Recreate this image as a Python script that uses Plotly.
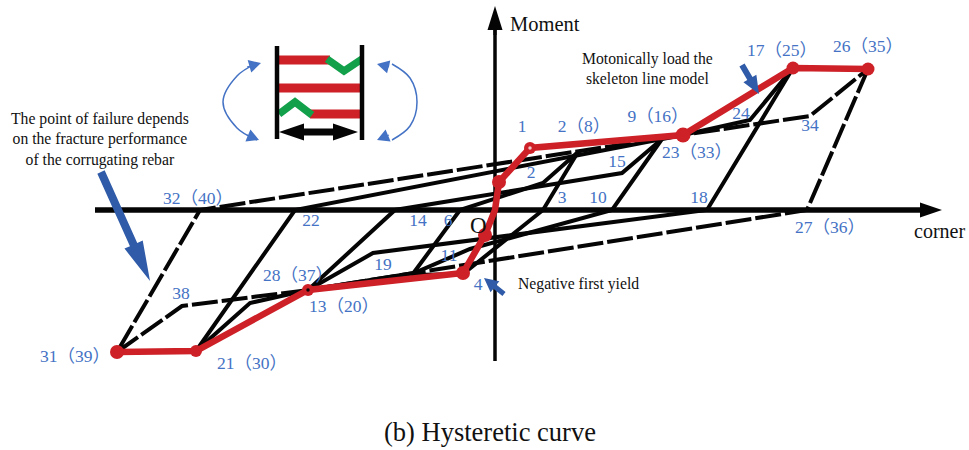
import plotly.graph_objects as go

BLACK = "#050505"
RED = "#cd2027"
GREEN = "#12a04b"
BLUE = "#4472c4"
DARK_BLUE = "#2f5ba8"
SERIF = "Liberation Serif, Noto Sans CJK SC, serif"

# Hysteresis loops, (corner, moment) in chart units, origin at the axes crossing
loop1_x = [83, 48, -32, -83, -35, 48, 83]
loop1_y = [58, 0, -64, -65, 0, 27, 58]
loop2_x = [167, 117, -25, -81, -187, -100, 127, 167]
loop2_y = [71, 0, -39, -63, -80, 0, 37, 71]
loop3_x = [298, 212, -122, -187]
loop3_y = [142, 0, -43, -80]
loop4_x = [-299, -200, 188, 255, 298]
loop4_y = [-141, 0, 75, 90, 142]
loop5_x = [-187, -245, -299]
loop5_y = [-80, -93, -141]
final_x = [373, 312, -187, -313, -378, -295, 188, 315, 373]
final_y = [141, 0, -80, -96, -142, 0, 75, 94, 141]

# Skeleton curve
skeleton_x = [-378, -299, -187, -32, -10, 0, 4, 35, 188, 298, 373]
skeleton_y = [-142, -141, -80, -63, -25, 0, 28, 62, 75, 142, 141]
skeleton_sizes = [14, 12, 12, 14, 14, 0, 14, 12, 15, 13, 13]

# Point labels
point_labels = ["31（39）", "21（30）", "13（20）", "28（37）", "38", "32（40）", "22", "14", "6",
                "19", "11", "4", "2", "1", "2（8）", "9（16）", "3", "10", "15", "18",
                "23（33）", "24", "34", "17（25）", "26（35）", "27（36）"]
label_x = [-420, -243, -151, -197, -314, -297, -184, -77, -47,
           -112, -46, -17, 36, 27, 89, 163, 67, 103, 122, 204,
           202, 246, 315, 287, 373, 335]
label_y = [-148, -155, -98, -67, -85, 10, -12, -12, -12,
           -56, -47, -76, 36, 82, 82, 92, 11, 11, 47, 11,
           56, 95, 83, 158, 162, -19]

note_text = ["Moment", "corner", "O", "The point of failure depends<br>on the fracture performance<br>of the corrugating rebar",
             "Motonically load the<br>skeleton line model", "Negative first yield", "(b) Hysteretic curve"]
note_x = [13, 444, -17, -395, 152, 21, -5]
note_y = [186, -21, -15, 71, 142, -74, -222]
note_size = [20.5, 20, 23, 15.7, 15.7, 15.7, 26.5]

# Inset sketch of the corrugated rebar
inset_bar_x = [[-216, -165], [-216, -133], [-185, -131]]
inset_bar_y = [[150, 150], [122, 122], [96, 96]]
inset_wave_x = [[-168, -151, -133], [-216, -200, -183]]
inset_wave_y = [[151, 139, 151], [96, 108, 95]]
inset_post_x = [[-218, -218], [-133, -133]]
inset_post_y = [[164, 71], [165, 70]]
arc_left_x = [-238, -258, -272, -258, -238]
arc_left_y = [147, 134, 108, 82, 70]
arc_right_x = [-103, -85, -78, -85, -103]
arc_right_y = [146, 132, 108, 84, 70]

fig = go.Figure()


def add_line(xs, ys, color=BLACK, width=4, dash="solid", shape="linear"):
    fig.add_trace(go.Scatter(x=xs, y=ys, mode="lines", hoverinfo="skip",
                             line=dict(color=color, width=width, dash=dash, shape=shape)))


def add_arrow(x0, y0, x1, y1, shaft, head, head_len, color):
    # filled block arrow, drawn as a polygon in axis units
    dx, dy = x1 - x0, y1 - y0
    n = (dx * dx + dy * dy) ** 0.5
    ux, uy = dx / n, dy / n
    px, py = -uy, ux
    bx, by = x1 - ux * head_len, y1 - uy * head_len
    xs = [x0 + px * shaft / 2, bx + px * shaft / 2, bx + px * head / 2, x1,
          bx - px * head / 2, bx - px * shaft / 2, x0 - px * shaft / 2, x0 + px * shaft / 2]
    ys = [y0 + py * shaft / 2, by + py * shaft / 2, by + py * head / 2, y1,
          by - py * head / 2, by - py * shaft / 2, y0 - py * shaft / 2, y0 + py * shaft / 2]
    fig.add_trace(go.Scatter(x=xs, y=ys, mode="lines", fill="toself", fillcolor=color,
                             line=dict(width=0, color=color), hoverinfo="skip"))


# axes
add_line([-400, 430], [0, 0], width=5.5)
add_line([0, 0], [-151, 185], width=3.5)
add_arrow(425, 0, 447, 0, 5, 15, 22, BLACK)
add_arrow(0, 175, 0, 204, 3, 15, 24, BLACK)

# hysteresis
for xs, ys in [(loop1_x, loop1_y), (loop2_x, loop2_y), (loop3_x, loop3_y), (loop4_x, loop4_y), (loop5_x, loop5_y)]:
    add_line(xs, ys)
add_line(final_x, final_y, width=4, dash="26px,4px")

# skeleton
add_line(skeleton_x, skeleton_y, color=RED, width=6.5)
fig.add_trace(go.Scatter(x=skeleton_x, y=skeleton_y, mode="markers", hoverinfo="skip",
                         marker=dict(color=RED, size=skeleton_sizes, opacity=1, line=dict(width=0))))
fig.add_trace(go.Scatter(x=[-187], y=[-80], mode="markers", hoverinfo="skip",
                         marker=dict(color=BLACK, size=3.5, opacity=1, line=dict(width=0))))
fig.add_trace(go.Scatter(x=[35], y=[62], mode="markers", hoverinfo="skip",
                         marker=dict(color="#f3c6c8", size=3.5, opacity=1, line=dict(width=0))))

# inset
for xs, ys in zip(inset_bar_x, inset_bar_y):
    add_line(xs, ys, color=RED, width=9)
for xs, ys in zip(inset_wave_x, inset_wave_y):
    add_line(xs, ys, color=GREEN, width=7.5)
for xs, ys in zip(inset_post_x, inset_post_y):
    add_line(xs, ys, width=4.5)
add_arrow(-175, 78, -216, 78, 7, 17, 25, BLACK)
add_arrow(-175, 78, -137, 78, 7, 17, 25, BLACK)
add_line(arc_left_x, arc_left_y, color=BLUE, width=1.5, shape="spline")
add_line(arc_right_x, arc_right_y, color=BLUE, width=1.5, shape="spline")
add_arrow(-248, 143, -234, 147, 1, 13, 12, BLUE)
add_arrow(-248, 75, -236, 70, 1, 13, 12, BLUE)
add_arrow(-106, 143, -118, 146, 1, 13, 12, BLUE)
add_arrow(-106, 75, -118, 70, 1, 13, 12, BLUE)

# callout arrows
add_arrow(-394, 38, -345, -71, 8, 20, 40, DARK_BLUE)
add_arrow(247, 145, 264, 116, 6, 15, 18, DARK_BLUE)
add_arrow(9, -84, -11, -68, 5, 14, 14, DARK_BLUE)

# point labels
fig.add_trace(go.Scatter(x=label_x, y=label_y, text=point_labels, mode="text", hoverinfo="skip",
                         textposition="middle center", textfont=dict(family=SERIF, size=17.5, color=BLUE)))

for text, x, y, size in zip(note_text, note_x, note_y, note_size):
    anchor = "left" if text.startswith(("Moment", "Negative")) else "center"
    fig.add_annotation(x=x, y=y, text=text, showarrow=False, xanchor=anchor, yanchor="middle",
                       font=dict(family=SERIF, size=size, color="#111111"))

fig.update_layout(
    width=969,
    height=450,
    showlegend=False,
    margin=dict(l=0, r=0, t=0, b=0),
    paper_bgcolor="white",
    plot_bgcolor="white",
    xaxis=dict(range=[-495, 474], visible=False, fixedrange=True),
    yaxis=dict(range=[-240, 210], visible=False, fixedrange=True),
)

# the page body has a default margin that would shift the whole figure
fig.write_html("out.html", config=dict(displayModeBar=False),
               post_script="document.body.style.margin='0';")
